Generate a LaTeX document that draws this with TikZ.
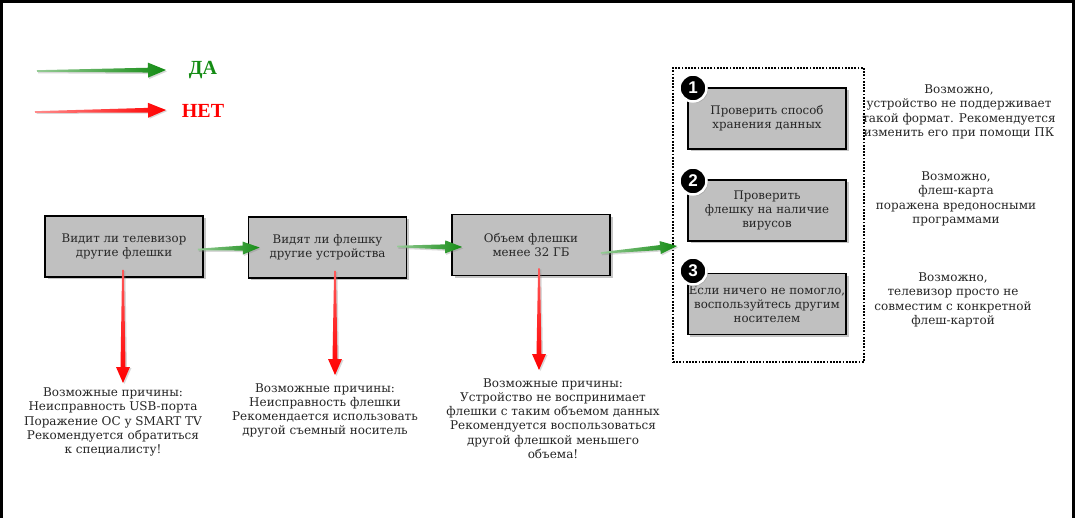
\documentclass[tikz,border=0pt]{standalone}
\usepackage{fontspec}
\setmainfont{DejaVu Serif}
\newfontfamily\numfont{Liberation Sans}
\newfontfamily\legfont{Liberation Serif}
\usetikzlibrary{calc,shadows}
\definecolor{gA}{HTML}{148C14}
\definecolor{rA}{HTML}{FF0000}
\definecolor{boxgray}{HTML}{C0C0C0}
\definecolor{txt}{HTML}{262626}
\newcommand\taper[7]{%
  \coordinate (tpH) at ($(#3)!#7!(#2)$);
  \path[#1] ($(#2)!#4!90:(#3)$) -- ($(tpH)!#5!-90:(#2)$) -- ($(tpH)!#6!-90:(#2)$) -- (#3)
    -- ($(tpH)!#6!90:(#2)$) -- ($(tpH)!#5!90:(#2)$) -- ($(#2)!#4!-90:(#3)$) -- cycle;}
\tikzset{
  box/.style={draw=black, line width=1.6pt, fill=boxgray, minimum width=158pt, minimum height=61pt,
    align=center, text=txt, font=\fontsize{11.8}{14}\selectfont, inner sep=1pt,
    drop shadow={opacity=0.45, shadow xshift=2.5pt, shadow yshift=-2.5pt}},
  note/.style={align=center, text=txt, font=\fontsize{12}{14.3}\selectfont},
  num/.style={circle, fill=black, draw=white, line width=2.5pt, minimum size=27pt, inner sep=0pt,
    text=white, font=\numfont\bfseries\fontsize{17}{17}\selectfont,
    drop shadow={opacity=0.35, shadow xshift=1.5pt, shadow yshift=-1.5pt}},
  garrow/.style={left color=gA!45!white, right color=gA,
    drop shadow={opacity=0.3, shadow xshift=1pt, shadow yshift=-1.5pt}},
  rarrow/.style={top color=rA!65!white, bottom color=rA,
    drop shadow={opacity=0.3, shadow xshift=1.5pt, shadow yshift=-1pt}},
  grpbox/.style={draw=black, line width=1.8pt, dash pattern=on 1.8pt off 1.4pt,
    minimum width=191pt, minimum height=294pt},
  legend/.style={font=\legfont\bfseries\fontsize{20}{20}\selectfont},
}
\begin{document}
\begin{tikzpicture}[x=1pt,y=-1pt]
\useasboundingbox (0,0) rectangle (1075,518);
\fill[white] (0,0) rectangle (1075,518);
\draw[line width=3pt] (1.5,540) -- (1.5,1.5) -- (1073.5,1.5) -- (1073.5,540);

% legend
\node[legend, text=gA] (da) at (203,70) {ДА};
\node[legend, text=rA] (net) at (203,111) {НЕТ};
\coordinate (l1s) at (37,71);
\coordinate (l1e) at (166,70);
\coordinate (l2s) at (35,112);
\coordinate (l2e) at (166,110);
\taper{garrow}{l1s}{l1e}{0.8pt}{2.4pt}{7.5pt}{18pt}
\taper{rarrow,left color=rA!45!white,right color=rA}{l2s}{l2e}{0.8pt}{2.4pt}{7.5pt}{18pt}

% main boxes
\node[box] (b1) at (124,246.5) {Видит ли телевизор\\другие флешки};
\node[box] (b2) at (327.5,247.5) {Видят ли флешку\\другие устройства};
\node[box] (b3) at (531,245) {Объем флешки\\менее 32 ГБ};

% group
\node[grpbox] (grp) at (768.5,215) {};
\node[box] (bA) at (767,118.5) {Проверить способ\\хранения данных};
\node[box] (bB) at (767,210.5) {Проверить\\флешку на наличие\\вирусов};
\node[box] (bC) at (767,304) {Если ничего не помогло,\\воспользуйтесь другим\\носителем};
\node[num] (n1) at (693,88) {1};
\node[num] (n2) at (693,181) {2};
\node[num] (n3) at (693,271) {3};

% notes
\node[note] (nA) at (959,112) {Возможно,\\устройство не поддерживает\\такой формат. Рекомендуется\\изменить его при помощи ПК};
\node[note] (nB) at (956,199) {Возможно,\\флеш-карта\\поражена вредоносными\\программами};
\node[note] (nC) at (953,300) {Возможно,\\телевизор просто не\\совместим с конкретной\\флеш-картой};
\node[note] (t1) at (113,422) {Возможные причины:\\Неисправность USB-порта\\Поражение ОС у SMART TV\\Рекомендуется обратиться\\к специалисту!};
\node[note] (t2) at (325,410.5) {Возможные причины:\\Неисправность флешки\\Рекомендается использовать\\другой съемный носитель};
\node[note] (t3) at (553,418.5) {Возможные причины:\\Устройство не воспринимает\\флешки с таким объемом данных\\Рекомендуется воспользоваться\\другой флешкой меньшего\\объема!};

% green arrows
\coordinate (g1s) at ($(b1.east)+(-6,3)$);
\coordinate (g1e) at ($(b2.west)+(12,0)$);
\coordinate (g2s) at ($(b2.east)+(-10,-1)$);
\coordinate (g2e) at ($(b3.west)+(11,2)$);
\coordinate (g3s) at ($(b3.east)+(-10,8)$);
\coordinate (g3e) at ($(grp.west)+(5,31)$);
\taper{garrow}{g1s}{g1e}{0.8pt}{2.5pt}{6.5pt}{17pt}
\taper{garrow}{g2s}{g2e}{0.8pt}{2.5pt}{6.5pt}{17pt}
\taper{garrow}{g3s}{g3e}{0.8pt}{2.5pt}{6.5pt}{17pt}

% red arrows
\coordinate (r1s) at ($(b1.south)+(-1,-8)$);
\coordinate (r1e) at (123,383);
\coordinate (r2s) at ($(b2.south)+(7.5,-8)$);
\coordinate (r2e) at (335,375);
\coordinate (r3s) at ($(b3.south)+(8,-8)$);
\coordinate (r3e) at (539,370);
\taper{rarrow}{r1s}{r1e}{0.9pt}{2.5pt}{7pt}{16pt}
\taper{rarrow}{r2s}{r2e}{0.9pt}{2.5pt}{7pt}{16pt}
\taper{rarrow}{r3s}{r3e}{0.9pt}{2.5pt}{7pt}{16pt}
\end{tikzpicture}
\end{document}
